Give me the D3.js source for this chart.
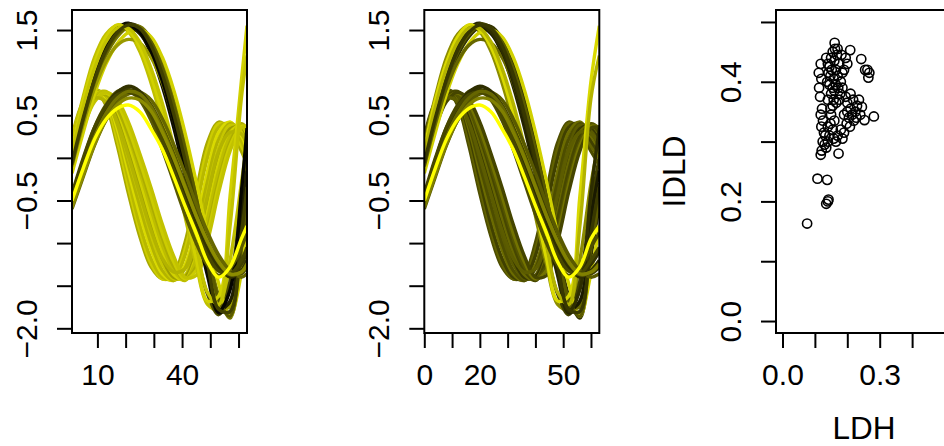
<!DOCTYPE html>
<html>
<head>
<meta charset="utf-8">
<script src="https://cdn.jsdelivr.net/npm/d3@7"></script>
<style>
  body { margin: 0; background: #fff; }
  svg { display: block; font-family: 'Liberation Sans', Arial, sans-serif; }
</style>
</head>
<body>
<svg id="chart" width="944" height="446"></svg>
<script>
// sampling grid of the curves (left panel: 1..63, middle panel: 0..63)
const gridLeft = [1, 5, 9, 13, 17, 21, 25, 29, 33, 37, 41, 45, 49, 53, 57, 61, 63];
const gridMiddle = [0, 4, 8, 12, 16, 20, 24, 28, 32, 36, 40, 44, 48, 52, 56, 60, 63];

// early-peaking curves
const earlyCurves = [
  [0.25, 0.66, 0.8, 0.62, 0.15, -0.42, -0.92, -1.28, -1.42, -1.36, -1.0, -0.4, 0.18, 0.42, 0.32, 0.08, -0.08],
  [0.22, 0.65, 0.81, 0.66, 0.22, -0.34, -0.85, -1.24, -1.42, -1.39, -1.08, -0.5, 0.1, 0.4, 0.36, 0.14, 0.0],
  [0.18, 0.62, 0.8, 0.7, 0.3, -0.25, -0.78, -1.18, -1.4, -1.42, -1.15, -0.6, 0.0, 0.36, 0.4, 0.2, 0.05],
  [0.15, 0.6, 0.79, 0.71, 0.35, -0.16, -0.66, -1.08, -1.36, -1.44, -1.26, -0.78, -0.16, 0.3, 0.42, 0.26, 0.1],
  [0.12, 0.56, 0.78, 0.73, 0.4, -0.08, -0.56, -1.0, -1.32, -1.44, -1.3, -0.88, -0.28, 0.22, 0.4, 0.3, 0.14],
  [0.08, 0.52, 0.76, 0.74, 0.45, 0.0, -0.44, -0.9, -1.25, -1.42, -1.38, -1.02, -0.42, 0.12, 0.38, 0.32, 0.18],
  [0.06, 0.5, 0.76, 0.76, 0.52, 0.1, -0.34, -0.8, -1.18, -1.4, -1.4, -1.1, -0.55, 0.02, 0.34, 0.36, 0.24],
  [0.04, 0.48, 0.74, 0.77, 0.56, 0.18, -0.25, -0.7, -1.1, -1.37, -1.43, -1.16, -0.64, -0.06, 0.3, 0.38, 0.28],
  [0.0, 0.44, 0.72, 0.78, 0.6, 0.25, -0.16, -0.6, -1.02, -1.32, -1.44, -1.2, -0.72, -0.15, 0.25, 0.38, 0.3],
  [0.02, 0.45, 0.7, 0.74, 0.58, 0.28, -0.1, -0.52, -0.94, -1.27, -1.42, -1.28, -0.84, -0.26, 0.18, 0.4, 0.34],
  [-0.04, 0.4, 0.68, 0.76, 0.64, 0.34, -0.04, -0.45, -0.88, -1.22, -1.42, -1.32, -0.9, -0.32, 0.14, 0.37, 0.36],
  [-0.08, 0.35, 0.66, 0.77, 0.68, 0.42, 0.05, -0.35, -0.78, -1.15, -1.4, -1.38, -0.98, -0.4, 0.08, 0.35, 0.36],
  [0.1, 0.5, 0.7, 0.66, 0.42, 0.02, -0.42, -0.85, -1.18, -1.34, -1.3, -1.0, -0.45, 0.08, 0.3, 0.28, 0.16],
];

// high-amplitude curves
const highCurves = [
  [0.15, 0.72, 1.18, 1.45, 1.55, 1.48, 1.25, 0.88, 0.42, -0.1, -0.68, -1.25, -1.72, -1.78, -1.2, -0.3, 0.2],
  [0.08, 0.65, 1.1, 1.4, 1.55, 1.52, 1.34, 1.0, 0.56, 0.05, -0.52, -1.1, -1.6, -1.84, -1.45, -0.55, 0.0],
  [0.0, 0.55, 1.0, 1.32, 1.52, 1.58, 1.48, 1.22, 0.84, 0.36, -0.2, -0.8, -1.38, -1.82, -1.7, -0.82, -0.3],
  [-0.05, 0.48, 0.94, 1.27, 1.48, 1.57, 1.53, 1.33, 1.0, 0.55, 0.02, -0.56, -1.2, -1.74, -1.82, -0.95, -0.4],
  [-0.12, 0.4, 0.86, 1.2, 1.42, 1.54, 1.54, 1.4, 1.1, 0.68, 0.16, -0.42, -1.06, -1.62, -1.88, -1.15, -0.55],
  [-0.18, 0.3, 0.75, 1.1, 1.34, 1.47, 1.5, 1.42, 1.18, 0.8, 0.3, -0.28, -0.9, -1.48, -1.86, -1.35, -0.8],
  [-0.1, 0.4, 0.82, 1.13, 1.32, 1.39, 1.35, 1.18, 0.88, 0.46, -0.05, -0.62, -1.22, -1.72, -1.75, -0.85, -0.3],
  [0.02, 0.56, 1.0, 1.3, 1.48, 1.54, 1.46, 1.25, 0.9, 0.44, -0.1, -0.68, -1.28, -1.78, -1.68, -0.7, -0.15],
  [-0.08, 0.45, 0.9, 1.24, 1.45, 1.55, 1.52, 1.36, 1.05, 0.62, 0.1, -0.47, -1.1, -1.66, -1.86, -1.05, -0.5],
  [-0.02, 0.52, 0.98, 1.3, 1.5, 1.56, 1.48, 1.26, 0.92, 0.46, -0.08, -0.66, -1.3, -1.8, -1.55, -0.4, 0.35],
  [0.1, 0.68, 1.12, 1.42, 1.56, 1.5, 1.3, 0.96, 0.52, 0.0, -0.58, -1.18, -1.68, -1.62, -0.45, 0.9, 1.55],
  [0.05, 0.6, 1.05, 1.36, 1.52, 1.52, 1.36, 1.05, 0.64, 0.14, -0.42, -1.02, -1.58, -1.72, -0.8, 0.7, 1.2],
  [-0.06, 0.47, 0.92, 1.26, 1.47, 1.56, 1.52, 1.32, 0.98, 0.52, -0.02, -0.6, -1.24, -1.78, -1.8, -0.9, -0.34],
];

// low-amplitude curves
const lowCurves = [
  [-0.45, -0.02, 0.36, 0.62, 0.78, 0.8, 0.68, 0.44, 0.1, -0.28, -0.66, -1.0, -1.26, -1.38, -1.3, -1.05, -0.88],
  [-0.5, -0.08, 0.3, 0.57, 0.74, 0.8, 0.74, 0.56, 0.26, -0.08, -0.44, -0.8, -1.1, -1.3, -1.38, -1.25, -1.1],
  [-0.55, -0.15, 0.22, 0.5, 0.68, 0.77, 0.76, 0.62, 0.36, 0.05, -0.3, -0.65, -0.96, -1.2, -1.35, -1.36, -1.28],
  [-0.6, -0.22, 0.15, 0.44, 0.64, 0.75, 0.77, 0.68, 0.46, 0.16, -0.18, -0.54, -0.87, -1.14, -1.32, -1.4, -1.36],
  [-0.48, -0.06, 0.32, 0.6, 0.77, 0.84, 0.78, 0.6, 0.3, -0.04, -0.4, -0.76, -1.06, -1.28, -1.4, -1.32, -1.2],
  [-0.42, 0.0, 0.36, 0.6, 0.74, 0.77, 0.7, 0.5, 0.2, -0.14, -0.5, -0.85, -1.14, -1.33, -1.36, -1.2, -1.05],
  [-0.52, -0.12, 0.25, 0.52, 0.7, 0.78, 0.75, 0.6, 0.33, 0.02, -0.33, -0.68, -0.99, -1.23, -1.37, -1.34, -1.24],
  [-0.58, -0.2, 0.16, 0.44, 0.62, 0.7, 0.68, 0.55, 0.3, 0.0, -0.34, -0.68, -0.98, -1.22, -1.36, -1.34, -1.25],
  [-0.5, -0.12, 0.22, 0.45, 0.58, 0.62, 0.54, 0.34, 0.1, -0.22, -0.56, -0.88, -1.22, -1.4, -1.28, -0.95, -0.8],
];

// depth of each curve (early, high, low order), shown as black -> yellow
const depthLeft = [
  0.66, 0.8, 0.72, 0.85, 0.7, 0.78, 0.62, 0.82, 0.74, 0.68, 0.8, 0.76, 0.7,
  0.75, 0.3, 0.05, 0.2, 0.45, 0.82, 0.6, 0.12, 0.35, 0.02, 0.82, 0.76, 0.25,
  0.35, 0.25, 0.3, 0.4, 0.2, 0.28, 0.45, 0.55, 1.0,
];
const depthMiddle = [
  0.3, 0.38, 0.25, 0.42, 0.3, 0.35, 0.22, 0.4, 0.28, 0.33, 0.45, 0.27, 0.36,
  0.55, 0.25, 0.15, 0.3, 0.2, 0.82, 0.4, 0.1, 0.35, 0.18, 0.85, 0.7, 0.22,
  0.3, 0.2, 0.25, 0.35, 0.18, 0.28, 0.4, 0.5, 1.0,
];

// scatter: LDH vs IDLD
const ldh = [
  0.135, 0.14, 0.145, 0.15, 0.155, 0.16, 0.152, 0.142, 0.148, 0.158, 0.165, 0.17, 0.175, 0.168, 0.162,
  0.138, 0.145, 0.155, 0.16, 0.165, 0.172, 0.18, 0.185, 0.178, 0.15, 0.158, 0.166, 0.14, 0.155, 0.148,
  0.175, 0.185, 0.19, 0.182, 0.17,
  0.161, 0.209, 0.195, 0.2, 0.243, 0.262, 0.268, 0.265, 0.255,
  0.118, 0.112, 0.12, 0.113, 0.116, 0.122, 0.118, 0.125, 0.12, 0.128, 0.124, 0.13, 0.121, 0.118, 0.135,
  0.14, 0.132,
  0.14, 0.148, 0.155, 0.16, 0.15, 0.145, 0.158, 0.173, 0.165, 0.17, 0.18, 0.185, 0.19,
  0.19, 0.2, 0.205, 0.21, 0.215, 0.22, 0.225, 0.23, 0.236, 0.245, 0.253, 0.282, 0.24, 0.228, 0.2,
  0.195, 0.21, 0.218, 0.198, 0.208,
  0.076, 0.108, 0.138, 0.135, 0.14, 0.142,
];
const idld = [
  0.44, 0.43, 0.425, 0.44, 0.45, 0.435, 0.42, 0.415, 0.41, 0.405, 0.42, 0.41, 0.43, 0.445, 0.455,
  0.40, 0.395, 0.39, 0.385, 0.395, 0.39, 0.40, 0.415, 0.38, 0.38, 0.37, 0.365, 0.37, 0.36, 0.355,
  0.37, 0.39, 0.42, 0.445, 0.455,
  0.465, 0.453, 0.44, 0.43, 0.438, 0.42, 0.415, 0.407, 0.42,
  0.43, 0.415, 0.405, 0.39, 0.375, 0.355, 0.345, 0.335, 0.325, 0.315, 0.30, 0.295, 0.285, 0.278, 0.29,
  0.30, 0.31,
  0.325, 0.33, 0.32, 0.335, 0.345, 0.31, 0.305, 0.28, 0.30, 0.31, 0.32, 0.305, 0.315,
  0.345, 0.35, 0.34, 0.355, 0.345, 0.335, 0.35, 0.36, 0.37, 0.358, 0.336, 0.342, 0.345, 0.34, 0.365,
  0.375, 0.38, 0.37, 0.33, 0.325,
  0.163, 0.238, 0.236, 0.196, 0.2, 0.203,
];

// axis ticks and the labels R kept
const curveYTicks = [-2, -1.5, -1, -0.5, 0, 0.5, 1, 1.5];
const curveYLabels = [1.5, 0.5, -0.5, -2];
const leftXTicks = [10, 20, 30, 40, 50, 60];
const leftXLabels = [10, 40];
const middleXTicks = [0, 10, 20, 30, 40, 50, 60];
const middleXLabels = [0, 20, 50];
const scatterTicks = [0, 0.1, 0.2, 0.3, 0.4, 0.5];
const scatterXLabels = [0, 0.3];
const scatterYLabels = [0, 0.2, 0.4];

const svg = d3.select('#chart');
const plotTop = 10;
const plotBottom = 333;
const panelWidth = 175;
const allCurves = [...earlyCurves, ...highCurves, ...lowCurves];
const lineColor = d3.scaleLinear().domain([0, 1]).range(['#000000', '#ffff00']);

function drawAxes(x, y, xTicks, xLabels, yTicks, yLabels, xFmt, yFmt) {
  const left = x.range()[0];
  svg.append('g')
    .attr('transform', `translate(0,${plotBottom})`)
    .call(d3.axisBottom(x).tickValues(xTicks).tickSize(15)
      .tickFormat(v => (xLabels.includes(v) ? xFmt(v) : '')))
    .call(g => g.select('.domain').remove())
    .call(g => g.selectAll('line').attr('stroke-width', 2))
    .call(g => g.selectAll('text').attr('y', 52).attr('dy', null));
  svg.append('g')
    .attr('transform', `translate(${left},0)`)
    .call(d3.axisLeft(y).tickValues(yTicks).tickSize(15)
      .tickFormat(v => (yLabels.includes(v) ? yFmt(v) : '')))
    .call(g => g.select('.domain').remove())
    .call(g => g.selectAll('line').attr('stroke-width', 2))
    .call(g => g.selectAll('text')
      .attr('x', 0).attr('y', -35).attr('dy', null)
      .attr('transform', 'rotate(-90)')
      .attr('text-anchor', 'middle'));
  svg.selectAll('.tick text')
    .attr('font-size', 30)
    .attr('font-family', "'Liberation Sans', Arial, sans-serif")
    .attr('fill', '#000');
  svg.append('rect')
    .attr('x', left).attr('y', plotTop)
    .attr('width', panelWidth).attr('height', plotBottom - plotTop)
    .attr('fill', 'none').attr('stroke', '#000').attr('stroke-width', 2);
}

function curvePanel(left, grid, xDomain, xTicks, xLabels, depth, id) {
  const x = d3.scaleLinear().domain(xDomain).range([left, left + panelWidth]);
  const y = d3.scaleLinear().domain([-2.055, 1.735]).range([plotBottom, plotTop]);
  svg.append('clipPath').attr('id', id)
    .append('rect')
    .attr('x', left).attr('y', plotTop)
    .attr('width', panelWidth).attr('height', plotBottom - plotTop);
  const line = d3.line()
    .x((d, i) => x(grid[i]))
    .y(d => y(d))
    .curve(d3.curveCatmullRom.alpha(0.5));
  svg.append('g')
    .attr('clip-path', `url(#${id})`)
    .selectAll('path')
    .data(allCurves)
    .join('path')
    .attr('d', line)
    .attr('fill', 'none')
    .attr('stroke', (d, i) => lineColor(depth[i]))
    .attr('stroke-width', 3.4)
    .attr('stroke-linejoin', 'round');
  drawAxes(x, y, xTicks, xLabels, curveYTicks, curveYLabels, d3.format('d'), d3.format('.1f'));
}

curvePanel(72, gridLeft, [1, 63], leftXTicks, leftXLabels, depthLeft, 'clip-left');
curvePanel(424.3, gridMiddle, [0, 63], middleXTicks, middleXLabels, depthMiddle, 'clip-middle');

// scatter panel
const sx = d3.scaleLinear().domain([-0.02, 0.52]).range([776, 776 + panelWidth]);
const sy = d3.scaleLinear().domain([-0.02, 0.52]).range([plotBottom, plotTop]);
svg.append('g')
  .selectAll('circle')
  .data(ldh)
  .join('circle')
  .attr('cx', d => sx(d))
  .attr('cy', (d, i) => sy(idld[i]))
  .attr('r', 4.6)
  .attr('fill', 'none')
  .attr('stroke', '#000')
  .attr('stroke-width', 1.6);
drawAxes(sx, sy, scatterTicks, scatterXLabels, scatterTicks, scatterYLabels, d3.format('.1f'), d3.format('.1f'));

svg.append('text')
  .attr('transform', 'translate(685,171.5) rotate(-90)')
  .attr('text-anchor', 'middle')
  .attr('font-size', 31.5)
  .text('IDLD');
svg.append('text')
  .attr('x', 864).attr('y', 439)
  .attr('text-anchor', 'middle')
  .attr('font-size', 31.5)
  .text('LDH');
</script>
</body>
</html>
